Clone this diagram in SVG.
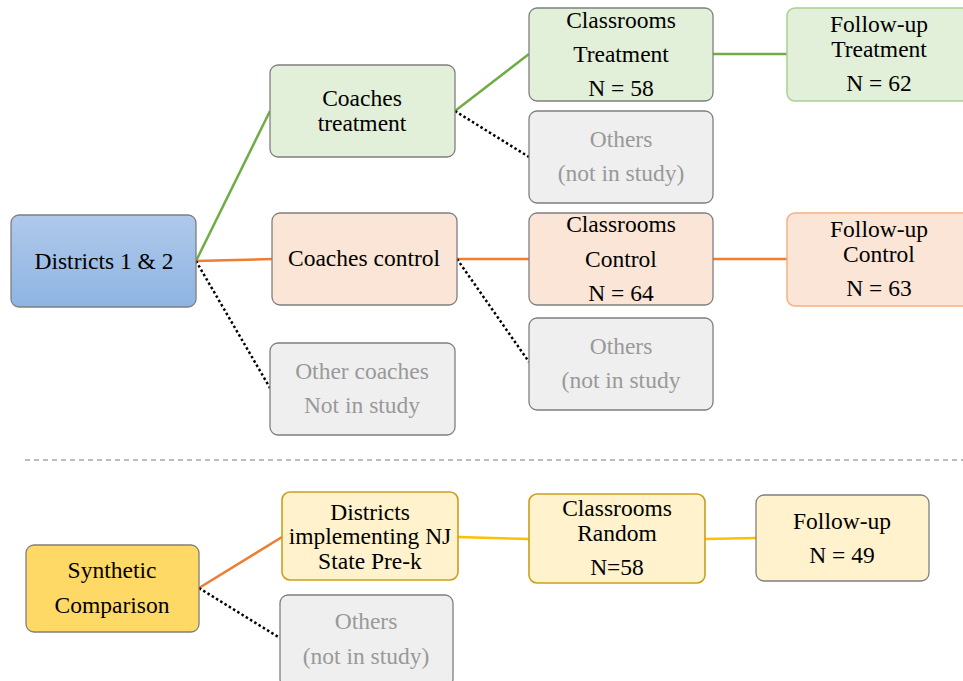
<svg xmlns="http://www.w3.org/2000/svg" width="963" height="681" viewBox="0 0 963 681" font-family="Liberation Serif, Times New Roman, DejaVu Serif, serif">
<defs>
<linearGradient id="blue" x1="0" y1="0" x2="0" y2="1">
<stop offset="0" stop-color="#afc9ea"/>
<stop offset="1" stop-color="#8eb4e3"/>
</linearGradient>
<style>
rect{stroke:#7f7f7f;stroke-width:1.3}
.g{fill:#e2efd9}
.o{fill:#fbe5d6}
.x{fill:#efefef}
.y{fill:#fff2cc}
.gs{stroke:#a9d18e;stroke-width:1.5}
.os{stroke:#f4b183;stroke-width:1.5}
.ys{stroke:#c9a01c;stroke-width:1.6}
text{font-family:Liberation Serif, Times New Roman, DejaVu Serif, serif;font-size:23.5px;fill:#000;text-anchor:middle}
text.gr{fill:#999999}
line{stroke-width:2.5;fill:none}
.lg{stroke:#70ad47}
.lo{stroke:#ed7d31}
.ly{stroke:#ffc000}
.ld{stroke:#000;stroke-width:2.5;stroke-dasharray:2.5 2.5}
</style>
</defs>
<g id="connectors">
<line class="lg" x1="196" y1="261" x2="270" y2="111"/>
<line class="lo" x1="196" y1="261" x2="272" y2="259"/>
<line class="ld" x1="196" y1="261" x2="270" y2="388"/>
<line class="lg" x1="455" y1="111" x2="529" y2="54"/>
<line class="ld" x1="455" y1="111" x2="529" y2="157"/>
<line class="lg" x1="713" y1="54" x2="787" y2="54"/>
<line class="lo" x1="457" y1="259" x2="529" y2="259"/>
<line class="ld" x1="457" y1="259" x2="529" y2="362"/>
<line class="lo" x1="713" y1="259" x2="787" y2="259"/>
<line class="lo" x1="199" y1="588" x2="282" y2="537"/>
<line class="ld" x1="199" y1="588" x2="280" y2="638"/>
<line class="ly" x1="458" y1="537" x2="529" y2="539"/>
<line class="ly" x1="705" y1="539" x2="756" y2="538"/>
<line x1="25" y1="460" x2="963" y2="460" style="stroke:#a6a6a6;stroke-width:1.5;stroke-dasharray:5 4"/>
</g>
<g id="districts12">
<rect x="11" y="215" width="185" height="92" rx="8" fill="url(#blue)"/>
<text x="104" y="269">Districts 1 &amp; 2</text>
</g>
<g id="coachesTreatment">
<rect class="g" x="270" y="65" width="185" height="92" rx="8"/>
<text x="362" y="106">Coaches</text>
<text x="362" y="131">treatment</text>
</g>
<g id="classroomsTreatment">
<rect class="g" x="529" y="8" width="184" height="93" rx="8"/>
<text x="621" y="28">Classrooms</text>
<text x="621" y="62">Treatment</text>
<text x="621" y="96">N = 58</text>
</g>
<g id="othersTreatment">
<rect class="x" x="529" y="111" width="184" height="92" rx="8"/>
<text class="gr" x="621" y="147">Others</text>
<text class="gr" x="621" y="181">(not in study)</text>
</g>
<g id="followupTreatment">
<rect class="g gs" x="787" y="8" width="185" height="93" rx="8"/>
<text x="879" y="32">Follow-up</text>
<text x="879" y="57">Treatment</text>
<text x="879" y="91">N = 62</text>
</g>
<g id="coachesControl">
<rect class="o" x="272" y="213" width="185" height="92" rx="8"/>
<text x="364" y="266">Coaches control</text>
</g>
<g id="classroomsControl">
<rect class="o" x="529" y="213" width="184" height="92" rx="8"/>
<text x="621" y="232">Classrooms</text>
<text x="621" y="267">Control</text>
<text x="621" y="301">N = 64</text>
</g>
<g id="followupControl">
<rect class="o os" x="787" y="213" width="185" height="93" rx="8"/>
<text x="879" y="237">Follow-up</text>
<text x="879" y="262">Control</text>
<text x="879" y="296">N = 63</text>
</g>
<g id="othersControl">
<rect class="x" x="529" y="318" width="184" height="92" rx="8"/>
<text class="gr" x="621" y="354">Others</text>
<text class="gr" x="621" y="388">(not in study</text>
</g>
<g id="otherCoaches">
<rect class="x" x="270" y="343" width="185" height="92" rx="8"/>
<text class="gr" x="362" y="379">Other coaches</text>
<text class="gr" x="362" y="413">Not in study</text>
</g>
<g id="synthetic">
<rect x="26" y="545" width="173" height="87" rx="8" fill="#ffd966"/>
<text x="112" y="578">Synthetic</text>
<text x="112" y="613">Comparison</text>
</g>
<g id="districtsNJ">
<rect class="y ys" x="282" y="492" width="176" height="88" rx="8"/>
<text x="370" y="520">Districts</text>
<text x="370" y="544">implementing NJ</text>
<text x="370" y="569">State Pre-k</text>
</g>
<g id="othersSynthetic">
<rect class="x" x="280" y="595" width="173" height="92" rx="8"/>
<text class="gr" x="366" y="629">Others</text>
<text class="gr" x="366" y="664">(not in study)</text>
</g>
<g id="classroomsRandom">
<rect class="y ys" x="529" y="494" width="176" height="89" rx="8"/>
<text x="617" y="516">Classrooms</text>
<text x="617" y="541">Random</text>
<text x="617" y="575">N=58</text>
</g>
<g id="followupSynthetic">
<rect class="y" x="756" y="495" width="173" height="86" rx="8"/>
<text x="842" y="529">Follow-up</text>
<text x="842" y="563">N = 49</text>
</g>
</svg>
